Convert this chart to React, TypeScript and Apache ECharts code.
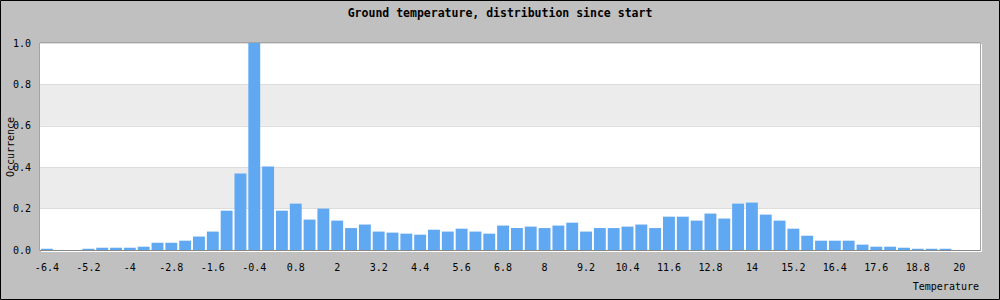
import React, { useEffect, useRef } from "react";
import * as echarts from "echarts";

const categories: number[] = [
  -6.4, -6, -5.6, -5.2, -4.8, -4.4, -4, -3.6, -3.2, -2.8, -2.4, -2, -1.6, -1.2, -0.8, -0.4,
  0, 0.4, 0.8, 1.2, 1.6, 2, 2.4, 2.8, 3.2, 3.6, 4, 4.4, 4.8, 5.2, 5.6, 6, 6.4, 6.8, 7.2, 7.6,
  8, 8.4, 8.8, 9.2, 9.6, 10, 10.4, 10.8, 11.2, 11.6, 12, 12.4, 12.8, 13.2, 13.6, 14, 14.4,
  14.8, 15.2, 15.6, 16, 16.4, 16.8, 17.2, 17.6, 18, 18.4, 18.8, 19.2, 19.6, 20, 20.4,
];

const occurrence: number[] = [
  0.006, 0, 0, 0.006, 0.011, 0.011, 0.011, 0.016, 0.035, 0.035,
  0.045, 0.065, 0.089, 0.19, 0.369, 1.0, 0.403, 0.19, 0.224, 0.147,
  0.2, 0.142, 0.106, 0.123, 0.089, 0.084, 0.079, 0.074, 0.098, 0.089,
  0.103, 0.089, 0.079, 0.118, 0.106, 0.113, 0.106, 0.118, 0.132, 0.089,
  0.106, 0.106, 0.113, 0.123, 0.106, 0.161, 0.161, 0.142, 0.176, 0.152,
  0.224, 0.229, 0.171, 0.142, 0.103, 0.069, 0.045, 0.045, 0.045, 0.026,
  0.016, 0.016, 0.011, 0.006, 0.006, 0.006, 0, 0,
];

const TITLE = "Ground temperature, distribution since start";
const X_NAME = "Temperature";
const Y_NAME = "Occurrence";

const FONT = "'DejaVu Sans Mono', 'Liberation Mono', monospace";

export default function App() {
  const ref = useRef<HTMLDivElement>(null);
  useEffect(() => {
    if (!ref.current) return;
    const chart = echarts.init(ref.current, null, { renderer: "svg" });
    const left = 40;
    const top = 43;
    const width = 940;
    const height = 207;
    chart.setOption({
      animation: false,
      backgroundColor: "#C0C0C0",
      grid: {
        left,
        top,
        width,
        height,
        show: true,
        backgroundColor: "#FFFFFF",
        borderColor: "#888888",
        borderWidth: 1,
      },
      xAxis: {
        type: "category",
        data: categories.map((c) => String(c)),
        boundaryGap: true,
        axisLine: { show: true, lineStyle: { color: "#888888", width: 1 } },
        axisTick: { show: false },
        axisLabel: {
          interval: 2,
          margin: 12,
          color: "#000",
          fontFamily: FONT,
          fontSize: 10,
        },
        splitLine: { show: false },
      },
      yAxis: {
        type: "value",
        min: 0,
        max: 1,
        interval: 0.2,
        axisLine: { show: false },
        axisTick: { show: false },
        axisLabel: {
          margin: 9,
          color: "#000",
          fontFamily: FONT,
          fontSize: 10,
          formatter: (v: number) => v.toFixed(1),
        },
        splitLine: { show: true, lineStyle: { color: "#DDDDDD", width: 1 } },
        splitArea: { show: true, areaStyle: { color: ["#FFFFFF", "#ECECEC"] } },
      },
      series: [
        {
          type: "bar",
          data: occurrence,
          barCategoryGap: "14%",
          itemStyle: { color: "#60A8F2" },
          z: 3,
        },
      ],
      graphic: [
        {
          type: "text",
          x: 500,
          y: 13,
          z: 10,
          style: {
            text: TITLE,
            fill: "#000",
            font: `bold 11.5px ${FONT}`,
            textAlign: "center",
            textVerticalAlign: "middle",
          },
        },
        {
          type: "text",
          x: 979,
          y: 286,
          z: 10,
          style: {
            text: X_NAME,
            fill: "#000",
            font: `10px ${FONT}`,
            textAlign: "right",
            textVerticalAlign: "middle",
          },
        },
        {
          type: "text",
          x: 10,
          y: 147,
          rotation: Math.PI / 2,
          z: 10,
          style: {
            text: Y_NAME,
            fill: "#000",
            font: `10px ${FONT}`,
            textAlign: "center",
            textVerticalAlign: "middle",
          },
        },
        {
          type: "line",
          z: 10,
          shape: { x1: left + 1, y1: top + height + 1.5, x2: left + width + 1.5, y2: top + height + 1.5 },
          style: { stroke: "#FFFFFF", lineWidth: 1 },
        },
        {
          type: "line",
          z: 10,
          shape: { x1: left + width + 1.5, y1: top + 1, x2: left + width + 1.5, y2: top + height + 1.5 },
          style: { stroke: "#FFFFFF", lineWidth: 1 },
        },
        {
          type: "rect",
          z: 10,
          shape: { x: 0.5, y: 0.5, width: 999, height: 299 },
          style: { fill: "none", stroke: "#000000", lineWidth: 1 },
        },
      ],
    });
    return () => chart.dispose();
  }, []);
  return (
    <div
      ref={ref}
      style={{ position: "absolute", left: 0, top: 0, width: 1000, height: 300 }}
    />
  );
}
